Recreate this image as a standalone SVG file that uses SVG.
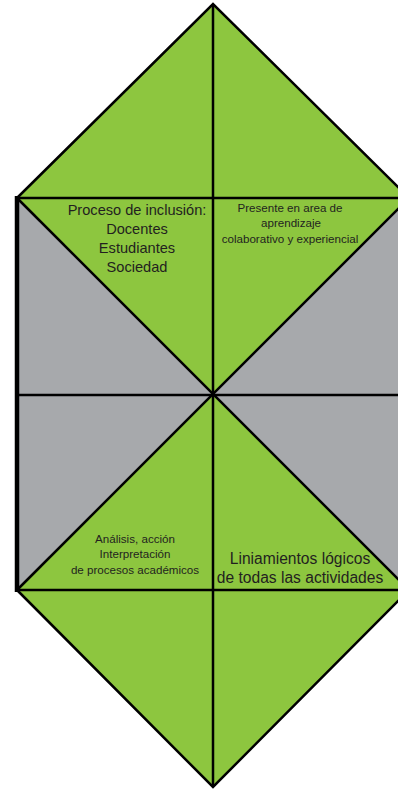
<svg xmlns="http://www.w3.org/2000/svg" width="398" height="791" viewBox="0 0 398 791">
<style>
.g{fill:#8dc63f}
.gr{fill:#a7a9ac}
.ln{stroke:#000;stroke-width:2.5;fill:none;stroke-linejoin:miter}
.t{font-family:"Liberation Sans",Arial,sans-serif;fill:#231f20;text-anchor:middle}
</style>
<rect width="398" height="791" fill="#fff"/>
<g id="background">
<rect class="gr" x="17" y="198" width="394" height="392"/>
</g>
<g id="top-triangle"><polygon class="g" points="213,4 17,198 409,198"/></g>
<g id="upper-center"><polygon class="g" points="17,198 409,198 213,395"/></g>
<g id="lower-center"><polygon class="g" points="17,590 409,590 213,395"/></g>
<g id="bottom-triangle"><polygon class="g" points="17,590 409,590 213,787"/></g>
<g id="connectors">
<polyline class="ln" points="17,198 213,4 409,198"/>
<polyline class="ln" points="17,590 213,787 409,590"/>
<line class="ln" x1="213" y1="4" x2="213" y2="787"/>
<line class="ln" x1="17" y1="198" x2="411" y2="198"/>
<line class="ln" x1="17" y1="395" x2="411" y2="395"/>
<line class="ln" x1="17" y1="590" x2="411" y2="590"/>
<line class="ln" x1="17" y1="198" x2="409" y2="590"/>
<line class="ln" x1="17" y1="590" x2="409" y2="198"/>
<line x1="17" y1="196" x2="17" y2="592" stroke="#000" stroke-width="4.5"/>
</g>
<g id="label-inclusion">
<text class="t" x="137" y="215" font-size="14.6">Proceso de inclusión:</text>
<text class="t" x="137" y="234" font-size="14.6">Docentes</text>
<text class="t" x="137" y="253" font-size="14.6">Estudiantes</text>
<text class="t" x="137" y="272" font-size="14.6">Sociedad</text>
</g>
<g id="label-presente">
<text class="t" x="290" y="212" font-size="11.6">Presente en area de</text>
<text class="t" x="291" y="227" font-size="11.6">aprendizaje</text>
<text class="t" x="290" y="243" font-size="11.6">colaborativo y experiencial</text>
</g>
<g id="label-analisis">
<text class="t" x="135" y="543" font-size="11.6">Análisis, acción</text>
<text class="t" x="135" y="558" font-size="11.6">Interpretación</text>
<text class="t" x="135" y="574" font-size="11.6">de procesos académicos</text>
</g>
<g id="label-liniamientos">
<text class="t" x="300" y="564" font-size="15.6">Liniamientos lógicos</text>
<text class="t" x="300" y="583" font-size="15.6">de todas las actividades</text>
</g>
</svg>
